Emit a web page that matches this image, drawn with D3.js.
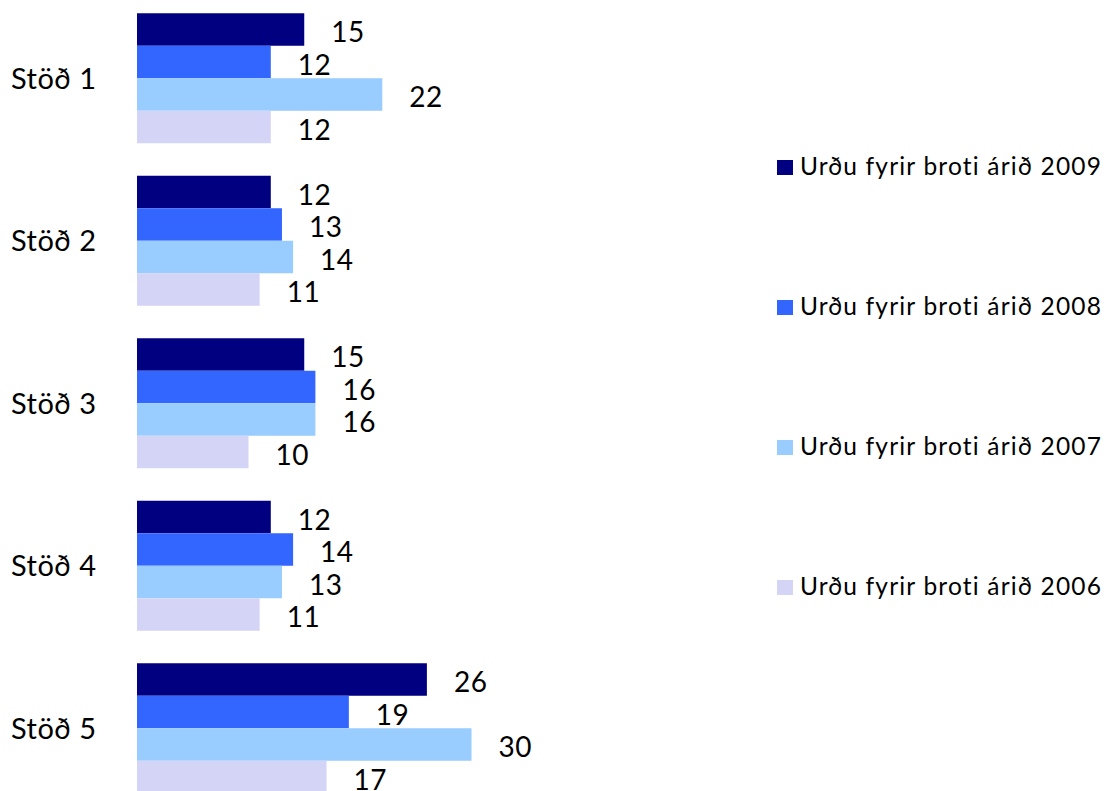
<!DOCTYPE html>
<html>
<head>
<meta charset="utf-8">
<script src="https://d3js.org/d3.v7.min.js"></script>
<style>
  body { margin: 0; background: #fff; }
  svg { display: block; font-family: Lato, "Open Sans", sans-serif; }
  .cat-label { font-size: 29px; fill: #000; letter-spacing: 0.5px; }
  .value-label { font-size: 28px; fill: #000; letter-spacing: 0.5px; }
  .legend-label { font-size: 24.5px; fill: #000; letter-spacing: 1.2px; }
</style>
</head>
<body>
<svg id="chart"></svg>
<script>
// Chart data
const stations = ['Stöð 1', 'Stöð 2', 'Stöð 3', 'Stöð 4', 'Stöð 5'];
const seriesNames = [
  'Urðu fyrir broti árið 2009',
  'Urðu fyrir broti árið 2008',
  'Urðu fyrir broti árið 2007',
  'Urðu fyrir broti árið 2006'
];
const values2009 = [15, 12, 15, 12, 26];
const values2008 = [12, 13, 16, 14, 19];
const values2007 = [22, 14, 16, 13, 30];
const values2006 = [12, 11, 10, 11, 17];
const seriesColors = ['#000080', '#3366ff', '#99ccff', '#d4d4f7'];

class GroupedBarChart {
  constructor(_config) {
    this.config = {
      parentElement: _config.parentElement,
      containerWidth: _config.containerWidth || 1107,
      containerHeight: _config.containerHeight || 791,
      barLeft: 137
    };
    this.initVis();
  }

  initVis() {
    let vis = this;
    const series = [values2009, values2008, values2007, values2006];

    vis.svg = d3.select(vis.config.parentElement)
        .attr('width', vis.config.containerWidth)
        .attr('height', vis.config.containerHeight);

    // Value scale: ~11.15px per unit
    vis.xScale = d3.scaleLinear()
        .domain([0, 30])
        .range([vis.config.barLeft, vis.config.barLeft + 334.5]);

    // One band per station, gap between groups equals one bar height
    vis.yScale = d3.scaleBand()
        .domain(stations)
        .range([-3, 809.5])
        .paddingInner(0.2)
        .paddingOuter(0.1);

    vis.ySub = d3.scaleBand()
        .domain(d3.range(series.length))
        .range([0, vis.yScale.bandwidth()]);

    // Flatten into one row per bar
    const rows = [];
    stations.forEach((s, i) => {
      series.forEach((vals, j) => rows.push({station: s, series: j, value: vals[i]}));
    });

    const groups = vis.svg.append('g');

    groups.selectAll('.bar')
        .data(rows)
        .join('rect')
        .attr('class', 'bar')
        .attr('x', vis.xScale(0))
        .attr('y', d => vis.yScale(d.station) + vis.ySub(d.series))
        .attr('width', d => vis.xScale(d.value) - vis.xScale(0))
        .attr('height', vis.ySub.bandwidth())
        .attr('fill', d => seriesColors[d.series]);

    groups.selectAll('.value-label')
        .data(rows)
        .join('text')
        .attr('class', 'value-label')
        .attr('x', d => vis.xScale(d.value) + 27)
        .attr('y', d => vis.yScale(d.station) + vis.ySub(d.series) + vis.ySub.bandwidth() / 2 + 12.5)
        .text(d => d.value);

    // Station labels
    vis.svg.selectAll('.cat-label')
        .data(stations)
        .join('text')
        .attr('class', 'cat-label')
        .attr('x', 11)
        .attr('y', d => vis.yScale(d) + vis.yScale.bandwidth() / 2 + 10.5)
        .text(d => d);

    // Legend
    const legend = vis.svg.selectAll('.legend')
        .data(seriesNames)
        .join('g')
        .attr('class', 'legend')
        .attr('transform', (d, i) => `translate(777,${175 + i * 140})`);

    legend.append('rect')
        .attr('x', 0)
        .attr('y', -15)
        .attr('width', 16)
        .attr('height', 15)
        .attr('fill', (d, i) => seriesColors[i]);

    legend.append('text')
        .attr('class', 'legend-label')
        .attr('x', 23)
        .attr('y', 0)
        .text(d => d);
  }
}

new GroupedBarChart({parentElement: '#chart'});
</script>
</body>
</html>
